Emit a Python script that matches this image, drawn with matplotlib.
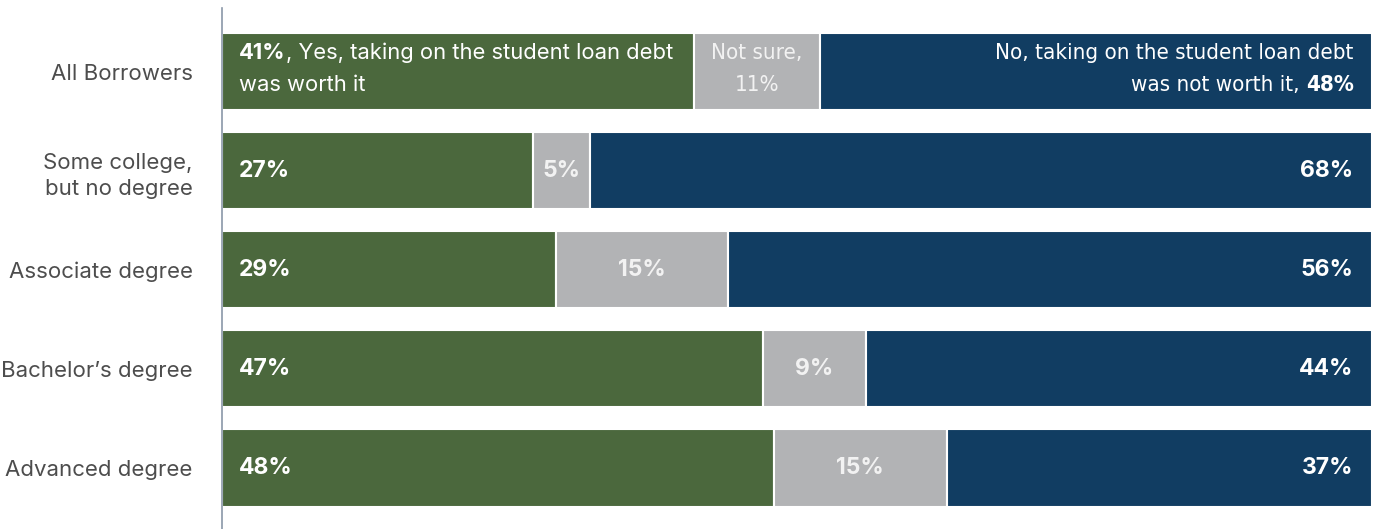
import matplotlib.pyplot as plt

plt.rcParams['font.family'] = ['Inter', 'DejaVu Sans']

categories = ["All Borrowers", "Some college,\nbut no degree", "Associate degree",
              "Bachelor\u2019s degree", "Advanced degree"]
yes = [41, 27, 29, 47, 48]
unsure = [11, 5, 15, 9, 15]
no = [48, 68, 56, 44, 37]

green = "#4b683d"
grey = "#b2b3b5"
navy = "#113d62"

fig = plt.figure(figsize=(13.76, 5.29), dpi=100)
ax = fig.add_axes([222 / 1376, 0, 1150 / 1376, 1 - 8 / 529])

y = list(range(len(categories)))
h = 0.78
ax.barh(y, yes, height=h, color=green, edgecolor="white", linewidth=1.5)
ax.barh(y, unsure, left=yes, height=h, color=grey, edgecolor="white", linewidth=1.5)
left_no = [a + b for a, b in zip(yes, unsure)]
ax.barh(y, no, left=left_no, height=h, color=navy, edgecolor="white", linewidth=1.5)

ax.set_xlim(0, 100)
ax.set_ylim(4.616, -0.641)

for sp in ["top", "right", "bottom"]:
    ax.spines[sp].set_visible(False)
ax.spines["left"].set_color("#8a97a8")
ax.spines["left"].set_linewidth(1.2)
ax.set_xticks([])
ax.set_yticks(y)
ax.set_yticklabels(categories, fontsize=16, color="#4d4d4d", linespacing=1.4)
ax.tick_params(axis="y", length=0, pad=21)

fs = 16.5
fs1 = 15.8
cond = dict(family="DejaVu Sans", fontstretch="condensed", fontsize=16)
top, bot = -0.19, 0.14
for i in y:
    if i == 0:
        t = ax.text(1.5, i + top, f"{yes[i]}%", color="white", fontsize=fs1,
                    fontweight="bold", va="center", ha="left")
        ax.annotate(", Yes, taking on the student loan debt", xy=(1, 0), xycoords=t,
                    color="white", fontsize=fs1, va="bottom", ha="left")
        ax.text(1.5, i + bot, "was worth it", color="white", fontsize=fs1,
                va="center", ha="left")
        ax.text(yes[i] + unsure[i] / 2, i + top, "Not sure,", color="#f2f2f2",
                va="center", ha="center", **cond)
        ax.text(yes[i] + unsure[i] / 2, i + bot, f"{unsure[i]}%", color="#f2f2f2",
                va="center", ha="center", **cond)
        ax.text(98.4, i + top, "No, taking on the student loan debt", color="white",
                va="center", ha="right", **cond)
        t2 = ax.text(98.4, i + bot, f"{no[i]}%", color="white", fontweight="bold",
                     va="center", ha="right", **cond)
        ax.annotate("was not worth it, ", xy=(0, 0), xycoords=t2, color="white",
                    va="bottom", ha="right", **cond)
    else:
        ax.text(1.5, i, f"{yes[i]}%", color="white", fontsize=fs,
                fontweight="bold", va="center", ha="left")
        ax.text(yes[i] + unsure[i] / 2, i, f"{unsure[i]}%", color="#f2f2f2",
                fontsize=fs, fontweight="bold", va="center", ha="center")
        ax.text(98.4, i, f"{no[i]}%", color="white", fontsize=fs,
                fontweight="bold", va="center", ha="right")

fig.savefig("out.png", dpi=100)
